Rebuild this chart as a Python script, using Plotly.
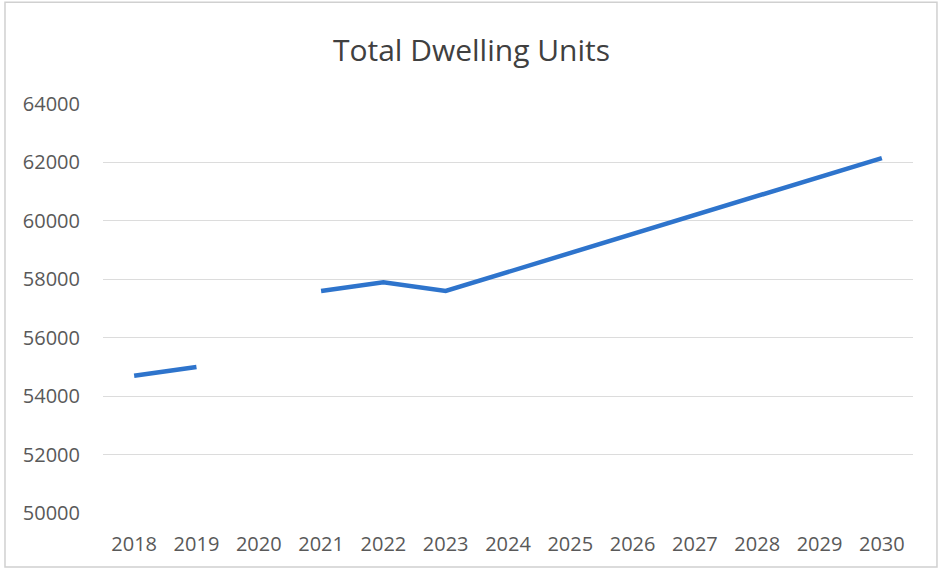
import plotly.graph_objects as go

# Annual totals; 2020 has no reported figure
years = ["2018", "2019", "2020", "2021", "2022", "2023", "2024",
         "2025", "2026", "2027", "2028", "2029", "2030"]
dwelling_units = [54700, 55000, None, 57600, 57900, 57600, 58250,
                  58900, 59550, 60200, 60850, 61500, 62150]
y_ticks = [50000, 52000, 54000, 56000, 58000, 60000, 62000, 64000]

fig = go.Figure()
fig.add_trace(go.Scatter(
    x=years, y=dwelling_units, mode="lines",
    line=dict(color="#2E74CC", width=4.5),
    connectgaps=False, showlegend=False,
))

fig.update_layout(
    width=943, height=573,
    paper_bgcolor="white", plot_bgcolor="white",
    margin=dict(l=103, r=30, t=104, b=60),
    title=dict(text="Total Dwelling Units", x=0.5, xanchor="center",
               y=0.911, yanchor="middle",
               font=dict(family="Open Sans", size=30, color="#404040")),
    font=dict(family="Open Sans", size=20, color="#595959"),
    xaxis=dict(type="category", range=[-0.5, 12.5],
               showgrid=False, showline=False,
               ticks="", ticklabelstandoff=17, fixedrange=True),
    yaxis=dict(range=[50000, 64000], tickvals=y_ticks,
               ticktext=[str(v) for v in y_ticks],
               showgrid=True, gridcolor="#DCDCDC", gridwidth=1,
               zeroline=False, showline=False, ticks="",
               ticklabelstandoff=22, fixedrange=True),
    shapes=[dict(type="rect", xref="paper", yref="paper",
                 x0=-0.121, x1=1.0296, y0=-0.132, y1=1.249,
                 line=dict(color="#D0D0D0", width=1.5))],
)

fig.write_html("out.html")
